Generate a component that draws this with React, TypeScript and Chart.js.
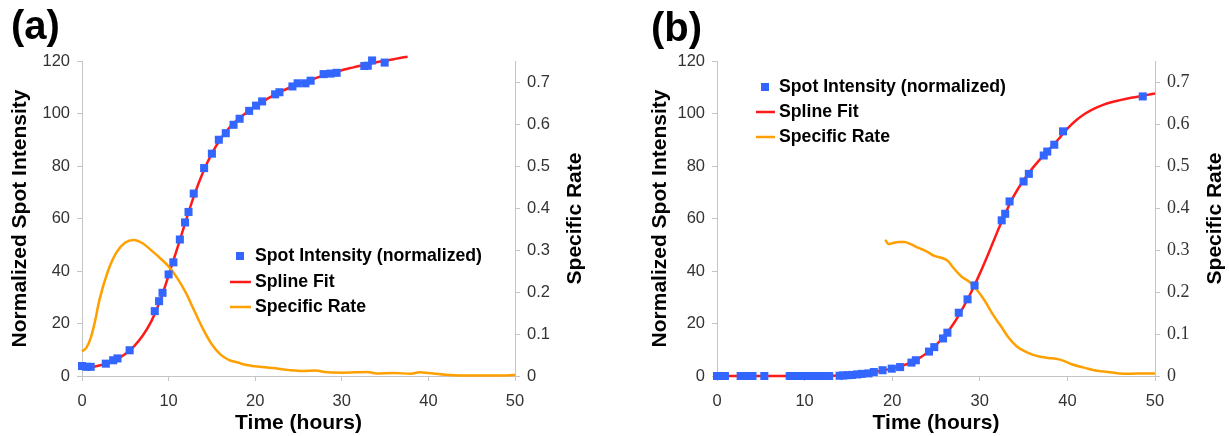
import React, { useEffect, useRef } from "react";
import { Chart, registerables } from "chart.js";

Chart.register(...registerables);

// ---------- Panel (a) ----------
const spotTimeA = [0, 0.5, 1.0, 2.75, 3.6, 4.1, 5.5, 8.4, 8.9, 9.3, 10.0, 10.55, 11.3, 11.9, 12.3, 12.9, 14.1, 15.0, 15.8, 16.6, 17.5, 18.2, 19.3, 20.1, 20.8, 22.3, 22.8, 24.3, 24.9, 25.8, 26.4, 27.9, 28.7, 29.4, 32.6, 33.0, 33.5, 34.95];
const spotValueA = [3.8, 3.5, 3.5, 4.7, 6.0, 6.7, 9.8, 24.7, 28.5, 31.7, 38.7, 43.3, 52, 58.5, 62.5, 69.5, 79.2, 84.7, 90, 92.5, 95.7, 98, 101, 103, 104.6, 107.3, 108.1, 110.3, 111.5, 111.5, 112.5, 115, 115.2, 115.5, 118.1, 118.2, 120.2, 119.4];
const fitTimeA = [0, 1, 2, 3, 4, 5, 6, 7, 8, 9, 10, 11, 12, 13, 14, 15, 16, 17, 18, 19, 20, 21, 22, 23, 24, 25, 26, 27, 28, 29, 30, 31, 32, 33, 34, 35, 36, 37, 37.6];
const fitValueA = [3.2, 3.4, 4.0, 5.0, 6.4, 8.4, 11.3, 15.3, 20.8, 28.5, 38.3, 48.6, 59.2, 69.3, 77.8, 84.8, 90.3, 94.5, 97.7, 100.4, 102.7, 104.8, 106.7, 108.4, 109.9, 111.2, 112.4, 113.5, 114.6, 115.6, 116.5, 117.3, 118.1, 118.8, 119.5, 120.1, 120.7, 121.3, 121.6];
const rateTimeA = [0, 0.5, 1, 1.5, 2, 3, 4, 5, 6, 7, 8, 9, 10, 11, 12, 13, 14, 15, 16, 17, 18, 19, 20, 22, 24, 25.5, 27, 28, 30, 33, 34, 36, 38, 39, 40, 42, 45, 48, 50];
const rateValueA = [0.059, 0.067, 0.09, 0.13, 0.18, 0.25, 0.295, 0.318, 0.324, 0.316, 0.299, 0.281, 0.261, 0.233, 0.198, 0.154, 0.111, 0.075, 0.051, 0.038, 0.032, 0.026, 0.023, 0.019, 0.014, 0.012, 0.013, 0.0095, 0.008, 0.0095, 0.006, 0.007, 0.0055, 0.0087, 0.007, 0.003, 0.001, 0.001, 0.0025];

// ---------- Panel (b) ----------
const spotTimeB = [0, 0.45, 0.9, 2.7, 3.15, 3.6, 4.05, 5.4, 8.3, 8.8, 9.2, 9.7, 10.1, 10.6, 11.0, 11.5, 11.9, 12.4, 12.8, 14.0, 14.4, 14.9, 15.4, 16.0, 16.5, 17.3, 17.9, 18.9, 19.95, 20.9, 22.2, 22.7, 24.2, 24.8, 25.8, 26.3, 27.6, 28.6, 29.4, 32.5, 32.9, 33.4, 35.0, 35.6, 37.3, 37.7, 38.5, 39.5, 48.6];
const spotValueB = [0, 0, 0, 0, 0, 0, 0, 0, 0, 0, 0, 0, 0, 0, 0, 0, 0, 0, 0, 0.1, 0.2, 0.3, 0.4, 0.6, 0.8, 1.0, 1.5, 2.2, 2.8, 3.4, 5.1, 6.0, 9.3, 11, 14.3, 16.5, 24.1, 29.2, 34.5, 59.3, 61.8, 66.5, 74.1, 77, 84, 85.5, 88.1, 93.2, 106.5];
const fitTimeB = [0, 5, 10, 14, 16, 18, 20, 21, 22, 23, 24, 25, 26, 27, 28, 29, 30, 31, 32, 33, 34, 35, 36, 37, 38, 39, 40, 41, 42, 43, 44, 45, 46, 47, 48, 49, 50];
const fitValueB = [0, 0, 0, 0.2, 0.6, 1.5, 2.9, 3.8, 4.9, 6.6, 8.9, 11.8, 15.4, 19.9, 25.5, 31.8, 39.0, 46.8, 54.9, 62.6, 69.3, 74.6, 79.1, 83.0, 86.6, 90.3, 94.2, 97.4, 99.9, 101.8, 103.2, 104.3, 105.1, 105.8, 106.4, 107.0, 107.6];
const rateTimeB = [19.2, 19.6, 20.0, 20.7, 21.4, 22.1, 23.0, 23.9, 24.8, 25.7, 26.4, 27.0, 27.9, 28.8, 29.7, 30.6, 31.5, 32.4, 33.3, 34.2, 35.1, 36.0, 36.9, 37.8, 38.7, 39.6, 40.5, 41.9, 43.2, 44.6, 45.9, 47.3, 48.6, 50];
const rateValueB = [0.324, 0.314, 0.316, 0.319, 0.319, 0.314, 0.305, 0.297, 0.286, 0.281, 0.273, 0.257, 0.237, 0.224, 0.204, 0.178, 0.146, 0.119, 0.091, 0.071, 0.059, 0.051, 0.046, 0.043, 0.041, 0.036, 0.028, 0.020, 0.013, 0.0095, 0.006, 0.0055, 0.006, 0.006];

// ---------- Shared text ----------
const legendLabels = ["Spot Intensity (normalized)", "Spline Fit", "Specific Rate"];
const xTitle = "Time (hours)";
const yTitle = "Normalized Spot Intensity";
const y1Title = "Specific Rate";

const SANS = '"Liberation Sans", Arial, Helvetica, sans-serif';
const SERIF = '"Liberation Serif", "Times New Roman", serif';
const BLUE = "#3366ff";
const RED = "#ff1a1a";
const ORANGE = "#ffa000";
const AXIS = "#c4c4c4";
const TICK = "#333333";

type Panel = {
  label: string;
  labelX: number;
  labelY: number;
  width: number;
  leftW: number;
  rightW: number;
  yTitlePad: number;
  rightTitleX: number;
  rightTickFont: string;
  legendRows: number[];
  markerX: number;
  lineX0: number;
  lineX1: number;
  textX: number;
  spotT: number[];
  spotV: number[];
  fitT: number[];
  fitV: number[];
  rateT: number[];
  rateV: number[];
};

const zip = (xs: number[], ys: number[]) => xs.map((x, i) => ({ x, y: ys[i] }));

const overlay = (p: Panel) => ({
  id: "overlay",
  afterDraw(chart: any) {
    const ctx = chart.ctx as CanvasRenderingContext2D;
    const area = chart.chartArea;
    ctx.save();
    // panel label
    ctx.fillStyle = "#000";
    ctx.font = `bold 40px ${SANS}`;
    ctx.textAlign = "left";
    ctx.textBaseline = "alphabetic";
    ctx.fillText(p.label, p.labelX, p.labelY);
    // right axis title (reads bottom to top)
    ctx.save();
    ctx.translate(p.rightTitleX, (area.top + area.bottom) / 2);
    ctx.rotate(-Math.PI / 2);
    ctx.font = `bold 21px ${SANS}`;
    ctx.textAlign = "center";
    ctx.textBaseline = "middle";
    ctx.fillText(y1Title, 0, 0);
    ctx.restore();
    // legend
    const [r0, r1, r2] = p.legendRows;
    ctx.fillStyle = BLUE;
    ctx.fillRect(p.markerX - 4, r0 - 4, 8, 8);
    ctx.lineWidth = 2.5;
    ctx.strokeStyle = RED;
    ctx.beginPath();
    ctx.moveTo(p.lineX0, r1);
    ctx.lineTo(p.lineX1, r1);
    ctx.stroke();
    ctx.strokeStyle = ORANGE;
    ctx.beginPath();
    ctx.moveTo(p.lineX0, r2);
    ctx.lineTo(p.lineX1, r2);
    ctx.stroke();
    ctx.fillStyle = "#000";
    ctx.font = `bold 17.7px ${SANS}`;
    ctx.textAlign = "left";
    ctx.textBaseline = "middle";
    ctx.fillText(legendLabels[0], p.textX, r0);
    ctx.fillText(legendLabels[1], p.textX, r1);
    ctx.fillText(legendLabels[2], p.textX, r2);
    ctx.restore();
  },
});

function buildConfig(p: Panel): any {
  return {
    type: "line",
    data: {
      datasets: [
        {
          label: legendLabels[0],
          data: zip(p.spotT, p.spotV),
          showLine: false,
          pointStyle: "rect",
          pointRadius: 5.7,
          pointBackgroundColor: BLUE,
          pointBorderWidth: 0,
          yAxisID: "y",
          order: 0,
          clip: false,
        },
        {
          label: legendLabels[2],
          data: zip(p.rateT, p.rateV),
          borderColor: ORANGE,
          borderWidth: 2.5,
          pointRadius: 0,
          cubicInterpolationMode: "monotone",
          yAxisID: "y1",
          order: 1,
          clip: false,
        },
        {
          label: legendLabels[1],
          data: zip(p.fitT, p.fitV),
          borderColor: RED,
          borderWidth: 2.5,
          pointRadius: 0,
          cubicInterpolationMode: "monotone",
          yAxisID: "y",
          order: 2,
          clip: false,
        },
      ],
    },
    options: {
      animation: false,
      responsive: false,
      devicePixelRatio: 1,
      events: [],
      layout: { padding: { top: 61, left: 0, right: 0, bottom: 0 } },
      plugins: { legend: { display: false }, tooltip: { enabled: false }, title: { display: false } },
      scales: {
        x: {
          type: "linear",
          position: "bottom",
          min: 0,
          max: 50,
          afterFit: (s: any) => {
            s.height = 60;
          },
          ticks: { stepSize: 10, color: TICK, font: { family: SANS, size: 16.5 }, padding: 11, maxRotation: 0, autoSkip: false },
          grid: { drawOnChartArea: false, tickLength: 5, color: AXIS },
          border: { color: AXIS, width: 1 },
          title: { display: true, text: xTitle, color: "#000", font: { family: SANS, size: 21, weight: "bold" }, padding: { top: 0, bottom: 0 } },
        },
        y: {
          type: "linear",
          position: "left",
          min: 0,
          max: 120,
          afterFit: (s: any) => {
            s.width = p.leftW;
          },
          ticks: { stepSize: 20, color: TICK, font: { family: SANS, size: 16.5 }, padding: 7 },
          grid: { drawOnChartArea: false, tickLength: 5, color: AXIS },
          border: { color: AXIS, width: 1 },
          title: { display: true, text: yTitle, color: "#000", font: { family: SANS, size: 21, weight: "bold" }, padding: { top: p.yTitlePad, bottom: 0 } },
        },
        y1: {
          type: "linear",
          position: "right",
          min: 0,
          max: 0.75,
          afterFit: (s: any) => {
            s.width = p.rightW;
          },
          ticks: {
            stepSize: 0.1,
            includeBounds: false,
            color: TICK,
            font: { family: p.rightTickFont, size: p.rightTickFont === SERIF ? 18 : 16.5 },
            padding: 7,
            callback: (v: number) => (v === 0 ? "0" : v.toFixed(1)),
          },
          grid: { drawOnChartArea: false, tickLength: 5, color: AXIS },
          border: { color: AXIS, width: 1 },
        },
      },
    },
    plugins: [overlay(p)],
  };
}

const panelA: Panel = {
  label: "(a)",
  labelX: 11,
  labelY: 39,
  width: 615,
  leftW: 82,
  rightW: 100,
  yTitlePad: 8,
  rightTitleX: 575,
  rightTickFont: SANS,
  legendRows: [256, 282, 307],
  markerX: 240,
  lineX0: 230,
  lineX1: 251,
  textX: 255,
  spotT: spotTimeA,
  spotV: spotValueA,
  fitT: fitTimeA,
  fitV: fitValueA,
  rateT: rateTimeA,
  rateV: rateValueA,
};

const panelB: Panel = {
  label: "(b)",
  labelX: 36,
  labelY: 41,
  width: 614,
  leftW: 102,
  rightW: 74,
  yTitlePad: 33,
  rightTitleX: 600,
  rightTickFont: SERIF,
  legendRows: [87, 112, 137],
  markerX: 150,
  lineX0: 141,
  lineX1: 160,
  textX: 164,
  spotT: spotTimeB,
  spotV: spotValueB,
  fitT: fitTimeB,
  fitV: fitValueB,
  rateT: rateTimeB,
  rateV: rateValueB,
};

function PanelChart({ panel, left }: { panel: Panel; left: number }) {
  const ref = useRef<HTMLCanvasElement>(null);
  useEffect(() => {
    if (!ref.current) return;
    const chart = new Chart(ref.current, buildConfig(panel));
    return () => chart.destroy();
  }, [panel]);
  return (
    <canvas
      ref={ref}
      width={panel.width}
      height={436}
      style={{ position: "absolute", left, top: 0, width: panel.width, height: 436 }}
    />
  );
}

export default function App() {
  return (
    <div style={{ position: "absolute", left: 0, top: 0, width: 1229, height: 436, background: "#fff" }}>
      <PanelChart panel={panelA} left={0} />
      <PanelChart panel={panelB} left={615} />
    </div>
  );
}
